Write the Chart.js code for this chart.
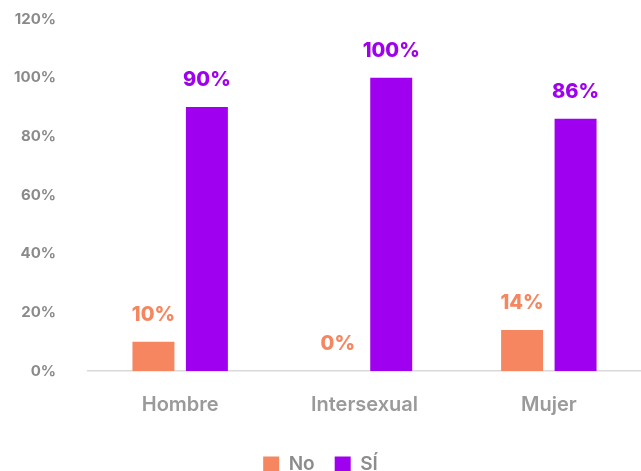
<!DOCTYPE html>
<html lang="es">
<head>
<meta charset="UTF-8">
<title>No / Sí por sexo</title>
<script src="https://cdn.jsdelivr.net/npm/chart.js"></script>
<style>
    html, body { margin: 0; padding: 0; background: #fff; }
    .wrap { width: 641px; height: 471px; position: relative; }
</style>
</head>
<body>
<div class="wrap"><canvas id="chart"></canvas></div>
<script>
    const categories = ['Hombre', 'Intersexual', 'Mujer'];
    const noValues = [10, 0, 14];
    const siValues = [90, 100, 86];
    const seriesNames = ['No', 'SÍ'];

    const colorNo = '#F5865F';
    const colorSi = '#9F00EF';
    const fontFamily = 'Inter, "Open Sans", sans-serif';

    // etiquetas de valor encima de cada barra
    const valueLabels = {
        id: 'valueLabels',
        afterDatasetsDraw(chart) {
            const ctx = chart.ctx;
            ctx.save();
            ctx.font = '800 20px ' + fontFamily;
            ctx.textAlign = 'center';
            ctx.textBaseline = 'middle';
            chart.data.datasets.forEach((ds, i) => {
                const meta = chart.getDatasetMeta(i);
                ctx.fillStyle = ds.backgroundColor;
                meta.data.forEach((bar, j) => {
                    ctx.fillText(ds.data[j] + '%', bar.x, bar.y - 27);
                });
            });
            ctx.restore();
        }
    };

    new Chart(document.getElementById('chart'), {
        type: 'bar',
        data: {
            labels: categories,
            datasets: [{
                label: seriesNames[0],
                data: noValues,
                backgroundColor: colorNo
            }, {
                label: seriesNames[1],
                data: siValues,
                backgroundColor: colorSi
            }]
        },
        options: {
            responsive: true,
            maintainAspectRatio: false,
            animation: false,
            categoryPercentage: 0.58,
            barPercentage: 0.785,
            layout: { padding: { top: 0, right: 0, left: 0, bottom: -13 } },
            plugins: {
                tooltip: { enabled: false },
                legend: {
                    position: 'bottom',
                    labels: {
                        boxWidth: 16,
                        boxHeight: 16,
                        padding: 20,
                        color: '#8c8c8c',
                        font: { family: fontFamily, size: 19, weight: '600' }
                    }
                }
            },
            scales: {
                x: {
                    grid: { display: false },
                    border: { color: '#d9d9d9', width: 1.5 },
                    ticks: {
                        color: '#9a9a9a',
                        padding: 14,
                        font: { family: fontFamily, size: 20, weight: '600' }
                    },
                    afterFit(scale) { scale.height = 64; }
                },
                y: {
                    min: 0,
                    max: 120,
                    grid: { display: false },
                    border: { display: false },
                    ticks: {
                        stepSize: 20,
                        padding: 24,
                        color: '#8a8a8a',
                        font: { family: fontFamily, size: 15, weight: 'bold' },
                        callback: v => v + '%'
                    },
                    afterFit(scale) {
                        scale.width = 88;
                        scale.paddingTop = 19;
                        scale.paddingBottom = 0;
                    }
                }
            }
        },
        plugins: [valueLabels]
    });
</script>
</body>
</html>
